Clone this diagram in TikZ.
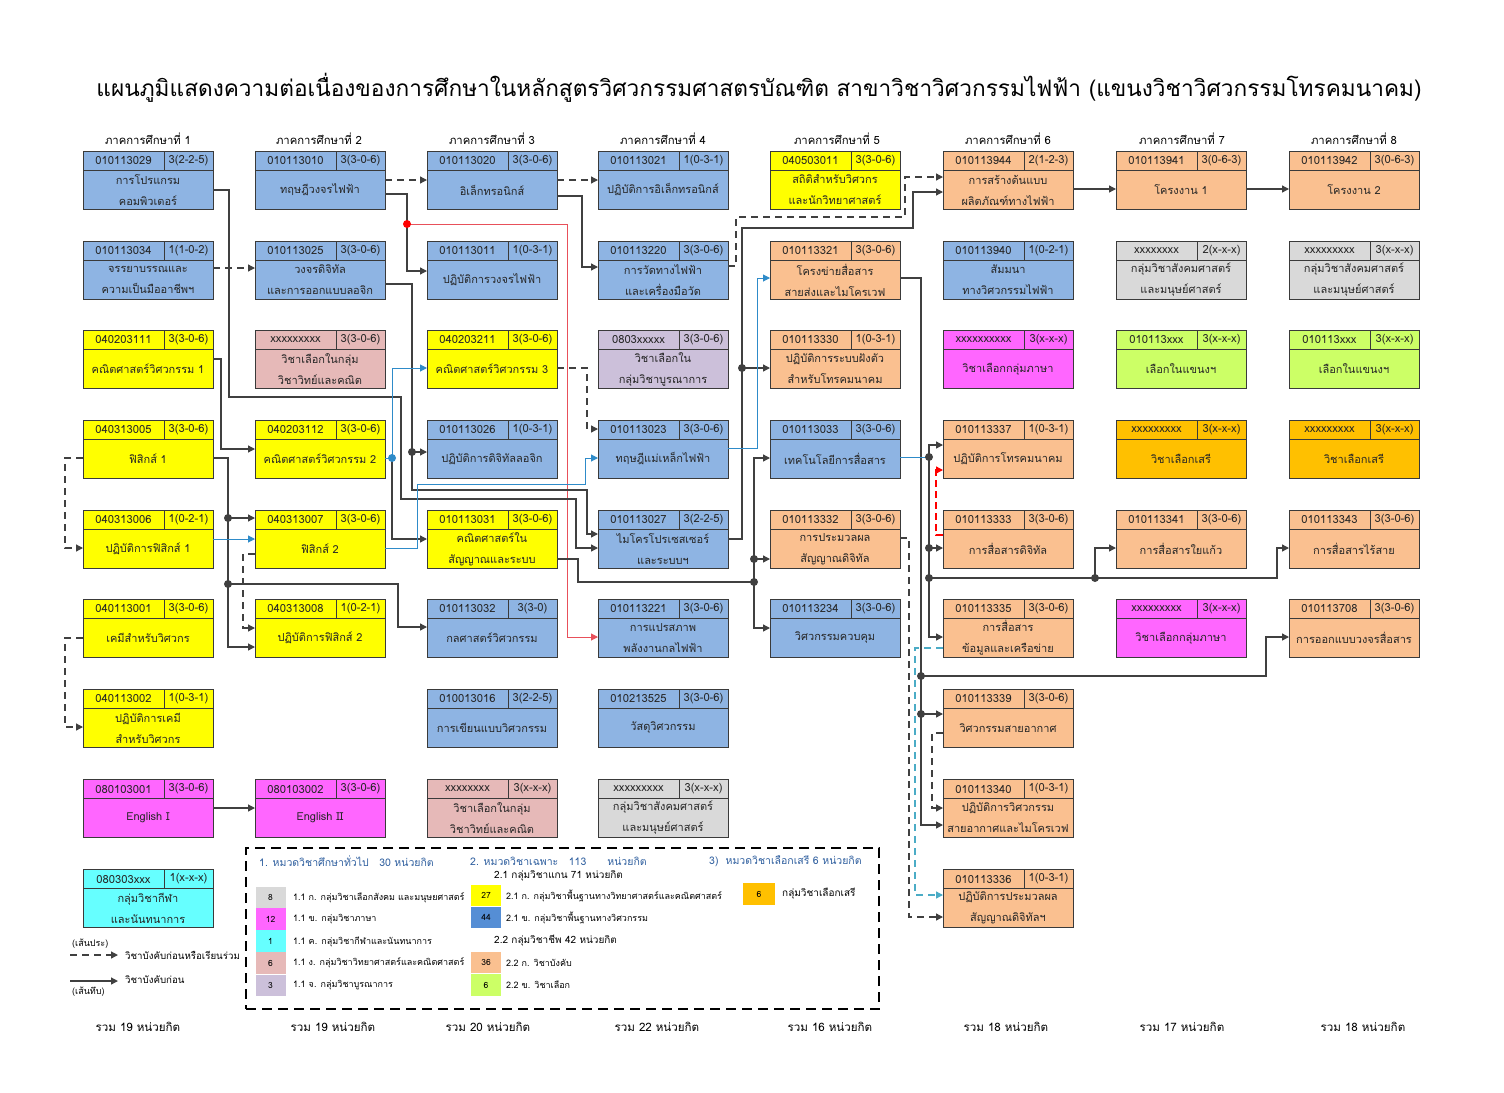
\documentclass[tikz,border=0pt]{standalone}
\usepackage{fontspec}
\usepackage{graphicx}
\setmainfont[Script=Thai]{Loma}
\usetikzlibrary{arrows.meta,calc}
\definecolor{cblue}{HTML}{8EB4E3}
\definecolor{cyel}{HTML}{FFFF00}
\definecolor{csal}{HTML}{FAC090}
\definecolor{cgray}{HTML}{D9D9D9}
\definecolor{cpink}{HTML}{E6B9B8}
\definecolor{clav}{HTML}{CCC0DA}
\definecolor{cmag}{HTML}{FF66FF}
\definecolor{cgrn}{HTML}{CCFF66}
\definecolor{cgold}{HTML}{FFC000}
\definecolor{ccyan}{HTML}{66FFFF}
\definecolor{cdblue}{HTML}{558ED5}
\definecolor{lineblue}{HTML}{2E8BC9}
\definecolor{linered}{HTML}{FF0000}
\definecolor{linepink}{HTML}{E8505A}
\definecolor{lineteal}{HTML}{4BACC6}
\definecolor{lgray}{HTML}{404040}
\definecolor{bord}{HTML}{3A3A3A}
\definecolor{hdrblue}{HTML}{2F5F9F}
\newcommand\course[7]{%
  \node[cbox, fill=#4] (#1) at ({#2+65},{#3+29}) {};
  \draw[cgrid] ([yshift=10pt]#1.west) -- ([yshift=10pt]#1.east);
  \draw[cgrid] ([xshift=16pt]#1.north) -- ([xshift=16pt,yshift=10pt]#1.center);
  \node[ctext] at ({#2+40.5},{#3+10}) {#5};
  \node[ctext] at ({#2+105.5},{#3+10}) {#6};
  \node[btext, align=center] at ({#2+65},{#3+39}) {#7};
}
\newcommand\jdot[1]{\fill[lgray] (#1) circle (4pt);}
\begin{document}
\begin{tikzpicture}[x=1pt,y=-1pt,
  cbox/.style={draw=bord, line width=1pt, rectangle, minimum width=130pt, minimum height=58pt, inner sep=0pt, outer sep=0pt},
  cgrid/.style={draw=bord, line width=1pt},
  ctext/.style={font=\fontsize{11.2}{21}\selectfont, inner sep=0pt, text=black!85},
  btext/.style={font=\fontsize{11}{21}\selectfont, inner sep=0pt, text=black!85},
  conn/.style={draw=lgray, line width=1.3pt, -{Triangle[length=7pt,width=7pt]}},
  dconn/.style={conn, dash pattern=on 7pt off 5pt},
  bconn/.style={conn, draw=lineblue, line width=1pt},
  rconn/.style={conn, draw=linepink, line width=1pt},
  rdconn/.style={conn, draw=linered, dash pattern=on 7pt off 4pt},
  tdconn/.style={conn, draw=lineteal, dash pattern=on 7pt off 5pt},
  semlab/.style={font=\fontsize{11.3}{13}\selectfont, inner sep=0pt},
  totlab/.style={font=\fontsize{11.6}{13}\selectfont, inner sep=0pt},
  lsq/.style={minimum width=30pt, minimum height=21.5pt, inner sep=0pt, font=\fontsize{8.5}{9}\selectfont},
  ltext/.style={font=\fontsize{9}{10}\selectfont, inner sep=0pt, anchor=west},
  lhead/.style={font=\fontsize{10.5}{12}\selectfont, inner sep=0pt, anchor=west, text=hdrblue}
]
\useasboundingbox (0,0) rectangle (1504,1092);
\fill[white] (0,0) rectangle (1504,1092);

\node[inner sep=0pt] (title) at (759,88) {\resizebox{1325pt}{!}{\fontsize{24}{28}\selectfont แผนภูมิแสดงความต่อเนื่องของการศึกษาในหลักสูตรวิศวกรรมศาสตรบัณฑิต สาขาวิชาวิศวกรรมไฟฟ้า (แขนงวิชาวิศวกรรมโทรคมนาคม)}};

\node[semlab] (s1) at (148,139) {ภาคการศึกษาที่ 1};
\node[semlab] (s2) at (319,139) {ภาคการศึกษาที่ 2};
\node[semlab] (s3) at (492,139) {ภาคการศึกษาที่ 3};
\node[semlab] (s4) at (663,139) {ภาคการศึกษาที่ 4};
\node[semlab] (s5) at (837,139) {ภาคการศึกษาที่ 5};
\node[semlab] (s6) at (1008,139) {ภาคการศึกษาที่ 6};
\node[semlab] (s7) at (1182,139) {ภาคการศึกษาที่ 7};
\node[semlab] (s8) at (1354,139) {ภาคการศึกษาที่ 8};

% column 1
\course{c11}{83}{151}{cblue}{010113029}{3(2-2-5)}{การโปรแกรม\\คอมพิวเตอร์}
\course{c12}{83}{241}{cblue}{010113034}{1(1-0-2)}{จรรยาบรรณและ\\ความเป็นมืออาชีพฯ}
\course{c13}{83}{330}{cyel}{040203111}{3(3-0-6)}{คณิตศาสตร์วิศวกรรม 1}
\course{c14}{83}{420}{cyel}{040313005}{3(3-0-6)}{ฟิสิกส์ 1}
\course{c15}{83}{510}{cyel}{040313006}{1(0-2-1)}{ปฏิบัติการฟิสิกส์ 1}
\course{c16}{83}{599}{cyel}{040113001}{3(3-0-6)}{เคมีสำหรับวิศวกร}
\course{c17}{83}{689}{cyel}{040113002}{1(0-3-1)}{ปฏิบัติการเคมี\\สำหรับวิศวกร}
\course{c18}{83}{779}{cmag}{080103001}{3(3-0-6)}{English I}
\course{c19}{83}{869}{ccyan}{080303xxx}{1(x-x-x)}{กลุ่มวิชากีฬา\\และนันทนาการ}
% column 2
\course{c21}{255}{151}{cblue}{010113010}{3(3-0-6)}{ทฤษฎีวงจรไฟฟ้า}
\course{c22}{255}{241}{cblue}{010113025}{3(3-0-6)}{วงจรดิจิทัล\\และการออกแบบลอจิก}
\course{c23}{255}{330}{cpink}{xxxxxxxxx}{3(3-0-6)}{วิชาเลือกในกลุ่ม\\วิชาวิทย์และคณิต}
\course{c24}{255}{420}{cyel}{040203112}{3(3-0-6)}{คณิตศาสตร์วิศวกรรม 2}
\course{c25}{255}{510}{cyel}{040313007}{3(3-0-6)}{ฟิสิกส์ 2}
\course{c26}{255}{599}{cyel}{040313008}{1(0-2-1)}{ปฏิบัติการฟิสิกส์ 2}
\course{c28}{255}{779}{cmag}{080103002}{3(3-0-6)}{English II}
% column 3
\course{c31}{427}{151}{cblue}{010113020}{3(3-0-6)}{อิเล็กทรอนิกส์}
\course{c32}{427}{241}{cblue}{010113011}{1(0-3-1)}{ปฏิบัติการวงจรไฟฟ้า}
\course{c33}{427}{330}{cyel}{040203211}{3(3-0-6)}{คณิตศาสตร์วิศวกรรม 3}
\course{c34}{427}{420}{cblue}{010113026}{1(0-3-1)}{ปฏิบัติการดิจิทัลลอจิก}
\course{c35}{427}{510}{cyel}{010113031}{3(3-0-6)}{คณิตศาสตร์ใน\\สัญญาณและระบบ}
\course{c36}{427}{599}{cblue}{010113032}{3(3-0)}{กลศาสตร์วิศวกรรม}
\course{c37}{427}{689}{cblue}{010013016}{3(2-2-5)}{การเขียนแบบวิศวกรรม}
\course{c38}{427}{779}{cpink}{xxxxxxxx}{3(x-x-x)}{วิชาเลือกในกลุ่ม\\วิชาวิทย์และคณิต}
% column 4
\course{c41}{598}{151}{cblue}{010113021}{1(0-3-1)}{ปฏิบัติการอิเล็กทรอนิกส์}
\course{c42}{598}{241}{cblue}{010113220}{3(3-0-6)}{การวัดทางไฟฟ้า\\และเครื่องมือวัด}
\course{c43}{598}{330}{clav}{0803xxxxx}{3(3-0-6)}{วิชาเลือกใน\\กลุ่มวิชาบูรณาการ}
\course{c44}{598}{420}{cblue}{010113023}{3(3-0-6)}{ทฤษฎีแม่เหล็กไฟฟ้า}
\course{c45}{598}{510}{cblue}{010113027}{3(2-2-5)}{ไมโครโปรเซสเซอร์\\และระบบฯ}
\course{c46}{598}{599}{cblue}{010113221}{3(3-0-6)}{การแปรสภาพ\\พลังงานกลไฟฟ้า}
\course{c47}{598}{689}{cblue}{010213525}{3(3-0-6)}{วัสดุวิศวกรรม}
\course{c48}{598}{779}{cgray}{xxxxxxxxx}{3(x-x-x)}{กลุ่มวิชาสังคมศาสตร์\\และมนุษย์ศาสตร์}
% column 5
\course{c51}{770}{151}{cyel}{040503011}{3(3-0-6)}{สถิติสำหรับวิศวกร\\และนักวิทยาศาสตร์}
\course{c52}{770}{241}{csal}{010113321}{3(3-0-6)}{โครงข่ายสื่อสาร\\สายส่งและไมโครเวฟ}
\course{c53}{770}{330}{csal}{010113330}{1(0-3-1)}{ปฏิบัติการระบบฝังตัว\\สำหรับโทรคมนาคม}
\course{c54}{770}{420}{cblue}{010113033}{3(3-0-6)}{เทคโนโลยีการสื่อสาร}
\course{c55}{770}{510}{csal}{010113332}{3(3-0-6)}{การประมวลผล\\สัญญาณดิจิทัล}
\course{c56}{770}{599}{cblue}{010113234}{3(3-0-6)}{วิศวกรรมควบคุม}
% column 6
\course{c61}{943}{151}{csal}{010113944}{2(1-2-3)}{การสร้างต้นแบบ\\ผลิตภัณฑ์ทางไฟฟ้า}
\course{c62}{943}{241}{cblue}{010113940}{1(0-2-1)}{สัมมนา\\ทางวิศวกรรมไฟฟ้า}
\course{c63}{943}{330}{cmag}{xxxxxxxxxx}{3(x-x-x)}{วิชาเลือกกลุ่มภาษา}
\course{c64}{943}{420}{csal}{010113337}{1(0-3-1)}{ปฏิบัติการโทรคมนาคม}
\course{c65}{943}{510}{csal}{010113333}{3(3-0-6)}{การสื่อสารดิจิทัล}
\course{c66}{943}{599}{csal}{010113335}{3(3-0-6)}{การสื่อสาร\\ข้อมูลและเครือข่าย}
\course{c67}{943}{689}{csal}{010113339}{3(3-0-6)}{วิศวกรรมสายอากาศ}
\course{c68}{943}{779}{csal}{010113340}{1(0-3-1)}{ปฏิบัติการวิศวกรรม\\สายอากาศและไมโครเวฟ}
\course{c69}{943}{869}{csal}{010113336}{1(0-3-1)}{ปฏิบัติการประมวลผล\\สัญญาณดิจิทัลฯ}
% column 7
\course{c71}{1116}{151}{csal}{010113941}{3(0-6-3)}{โครงงาน 1}
\course{c72}{1116}{241}{cgray}{xxxxxxxx}{2(x-x-x)}{กลุ่มวิชาสังคมศาสตร์\\และมนุษย์ศาสตร์}
\course{c73}{1116}{330}{cgrn}{010113xxx}{3(x-x-x)}{เลือกในแขนงฯ}
\course{c74}{1116}{420}{cgold}{xxxxxxxxx}{3(x-x-x)}{วิชาเลือกเสรี}
\course{c75}{1116}{510}{csal}{010113341}{3(3-0-6)}{การสื่อสารใยแก้ว}
\course{c76}{1116}{599}{cmag}{xxxxxxxxx}{3(x-x-x)}{วิชาเลือกกลุ่มภาษา}
% column 8
\course{c81}{1289}{151}{csal}{010113942}{3(0-6-3)}{โครงงาน 2}
\course{c82}{1289}{241}{cgray}{xxxxxxxxx}{3(x-x-x)}{กลุ่มวิชาสังคมศาสตร์\\และมนุษย์ศาสตร์}
\course{c83}{1289}{330}{cgrn}{010113xxx}{3(x-x-x)}{เลือกในแขนงฯ}
\course{c84}{1289}{420}{cgold}{xxxxxxxxx}{3(x-x-x)}{วิชาเลือกเสรี}
\course{c85}{1289}{510}{csal}{010113343}{3(3-0-6)}{การสื่อสารไร้สาย}
\course{c86}{1289}{599}{csal}{010113708}{3(3-0-6)}{การออกแบบวงจรสื่อสาร}

% ---------- connectors ----------
\draw[dconn] (c21.east |- 0,180) -- (c31.west |- 0,180);
\draw[dconn] (c31.east |- 0,180) -- (c41.west |- 0,180);
\draw[conn] (c61.east |- 0,189) -- (c71.west |- 0,189);
\draw[conn] (c71.east |- 0,189) -- (c81.west |- 0,189);
\draw[conn] (c21.east |- 0,194) -| (407,271) -- (c32.west |- 0,271);
\coordinate (jr) at (407,224);
\draw[rconn] (jr) -| (567,637) -- (c46.west |- 0,637);
\fill[linered] (jr) circle (4pt);
\draw[conn] (c31.east |- 0,196) -| (582,267) -- (c42.west |- 0,267);
\draw[dconn] (c12.east |- 0,268) -- (c22.west |- 0,268);
\draw[conn] (c11.east |- 0,190) -| (229,397) -| (401,499) -| (576,548) -- (c45.west |- 0,548);
\draw[conn] (c22.east |- 0,284) -| (412,490) -| (587,534) -- (c45.west |- 0,534);
\coordinate (j22) at (412,452);
\draw[conn] (j22) -- (c34.west |- 0,452);
\jdot{j22}
\draw[conn] (c13.east |- 0,359) -| (221,449) -- (c24.west |- 0,449);
\draw[conn] (c14.east |- 0,458) -| (228,647) -- (c26.west |- 0,647);
\coordinate (j14a) at (228,518);
\coordinate (j14b) at (228,584);
\draw[conn] (j14a) -- (c25.west |- 0,518);
\draw[conn] (j14b) -| (398,627) -- (c36.west |- 0,627);
\jdot{j14a}
\jdot{j14b}
\draw[bconn] (c15.east |- 0,539) -- (c25.west |- 0,539);
\draw[dconn] (c25.west |- 0,554) -| (243,628) -- (c26.west |- 0,628);
\draw[dconn] (c14.west |- 0,458) -| (65,548) -- (c15.west |- 0,548);
\draw[dconn] (c16.west |- 0,638) -| (65,727) -- (c17.west |- 0,727);
\coordinate (j24) at (392,458);
\draw[conn] (j24) |- (c35.west |- 0,539);
\draw[bconn, -] (c24.east |- 0,458) -- (j24);
\draw[bconn] (j24) |- (c33.west |- 0,368);
\fill[lineblue] (j24) circle (4pt);
\draw[bconn] (c25.east |- 0,548) -| (417,484) -| (585,458) -- (c44.west |- 0,458);
\draw[dconn] (c33.east |- 0,368) -| (587,429) -- (c44.west |- 0,429);
\coordinate (j35) at (754,582);
\coordinate (j35b) at (754,559);
\draw[conn, -] (c35.east |- 0,559) -| (578,582) -- (j35);
\draw[conn] (j35) |- (c54.west |- 0,458);
\draw[conn] (j35) |- (c56.west |- 0,628);
\draw[conn] (j35b) -- (c55.west |- 0,559);
\jdot{j35}
\jdot{j35b}
\coordinate (j45) at (742,368);
\draw[conn] (c45.east |- 0,539) -| (742,228) -| (913,192) -- (c61.west |- 0,192);
\draw[conn] (j45) -- (c53.west |- 0,368);
\jdot{j45}
\draw[dconn] (c42.east |- 0,266) -| (736,217) -| (905,177) -- (c61.west |- 0,177);
\draw[bconn] (c44.east |- 0,448) -| (757,278) -- (c52.west |- 0,278);
\coordinate (j52a) at (921,676);
\coordinate (j52b) at (921,714);
\draw[conn] (c52.east |- 0,278) -| (921,825) -- (c68.west |- 0,825);
\draw[conn] (j52a) -| (1266,637) -- (c86.west |- 0,637);
\draw[conn] (j52b) -- (c67.west |- 0,714);
\jdot{j52a}
\jdot{j52b}
\coordinate (j54) at (929,457);
\coordinate (j54b) at (929,548);
\coordinate (j54c) at (929,578);
\coordinate (j75) at (1095,578);
\draw[bconn, -] (c54.east |- 0,457) -- (j54);
\draw[conn] (j54) |- (c64.west |- 0,445);
\draw[conn] (j54) |- (c66.west |- 0,637);
\draw[conn] (j54b) -- (c65.west |- 0,548);
\draw[conn, -] (j54c) -- (j75);
\draw[conn] (j75) |- (c75.west |- 0,548);
\draw[conn] (j75) -| (1277,548) -- (c85.west |- 0,548);
\jdot{j54}
\jdot{j54b}
\jdot{j54c}
\jdot{j75}
\draw[rdconn] (c65.west |- 0,535) -| (936,470) -- (c64.west |- 0,470);
\draw[dconn] (c55.east |- 0,538) -| (909,917) -- (c69.west |- 0,917);
\draw[tdconn] (c66.west |- 0,648) -| (915,895) -- (c69.west |- 0,895);
\draw[dconn] (c67.west |- 0,733) -| (932,808) -- (c68.west |- 0,808);
\draw[conn] (c18.east |- 0,808) -- (c28.west |- 0,808);

% ---------- line legend ----------
\node[ltext, font=\fontsize{9}{10}\selectfont] (lp1) at (72,944) {(เส้นประ)};
\coordinate (la1) at (70,955);
\coordinate (la2) at (118,955);
\draw[dconn] (la1) -- (la2);
\node[ltext, font=\fontsize{9.7}{11}\selectfont] (lt1) at (125,955) {วิชาบังคับก่อนหรือเรียนร่วม};
\coordinate (lb1) at (70,981);
\coordinate (lb2) at (118,981);
\draw[conn] (lb1) -- (lb2);
\node[ltext, font=\fontsize{9.7}{11}\selectfont] (lt2) at (125,980) {วิชาบังคับก่อน};
\node[ltext, font=\fontsize{9}{10}\selectfont] (lp2) at (72,992) {(เส้นทึบ)};

% ---------- colour legend ----------
\node[draw=black, line width=1.3pt, dash pattern=on 10pt off 6pt, minimum width=633pt, minimum height=161pt, inner sep=0pt] (legend) at (562.5,928.5) {};
\node[lhead] (h1) at (259,861) {1. หมวดวิชาศึกษาทั่วไป\quad 30 หน่วยกิต};
\node[lhead] (h2) at (470,861) {2. หมวดวิชาเฉพาะ\quad 113\qquad หน่วยกิต};
\node[lhead] (h3) at (709,861) {3)\ \ หมวดวิชาเลือกเสรี 6 หน่วยกิต};
\node[ltext, font=\fontsize{10}{11}\selectfont] (g21) at (494,876) {2.1 กลุ่มวิชาแกน 71 หน่วยกิต};
\node[ltext, font=\fontsize{10}{11}\selectfont] (g22) at (494,941) {2.2 กลุ่มวิชาชีพ 42 หน่วยกิต};

\node[lsq, fill=cgray] (q1) at (270.5,897.5) {8};
\node[lsq, fill=cmag] (q2) at (270.5,919) {12};
\node[lsq, fill=ccyan] (q3) at (270.5,941) {1};
\node[lsq, fill=cpink] (q4) at (270.5,963) {6};
\node[lsq, fill=clav] (q5) at (270.5,985.5) {3};
\node[ltext] (t1) at (293,897.5) {1.1 ก. กลุ่มวิชาเลือกสังคม และมนุษยศาสตร์};
\node[ltext] (t2) at (293,919) {1.1 ข. กลุ่มวิชาภาษา};
\node[ltext] (t3) at (293,942) {1.1 ค. กลุ่มวิชากีฬาและนันทนาการ};
\node[ltext] (t4) at (293,963) {1.1 ง. กลุ่มวิชาวิทยาศาสตร์และคณิตศาสตร์};
\node[ltext] (t5) at (293,985.5) {1.1 จ. กลุ่มวิชาบูรณาการ};

\node[lsq, fill=cyel] (q6) at (486,895.5) {27};
\node[lsq, fill=cdblue] (q7) at (486,917.5) {44};
\node[lsq, fill=csal] (q8) at (486,962.5) {36};
\node[lsq, fill=cgrn] (q9) at (486,985) {6};
\node[ltext] (t6) at (506,895.5) {2.1 ก. กลุ่มวิชาพื้นฐานทางวิทยาศาสตร์และคณิตศาสตร์};
\node[ltext] (t7) at (506,917.5) {2.1 ข. กลุ่มวิชาพื้นฐานทางวิศวกรรม};
\node[ltext] (t8) at (506,962.5) {2.2 ก. วิชาบังคับ};
\node[ltext] (t9) at (506,985) {2.2 ข. วิชาเลือก};
\node[lsq, fill=cgold, minimum width=32pt, minimum height=22pt] (q10) at (759,894) {6};
\node[ltext, font=\fontsize{10}{11}\selectfont] (t10) at (782,894) {กลุ่มวิชาเลือกเสรี};

% ---------- totals ----------
\node[totlab] (r1) at (138,1027) {รวม 19 หน่วยกิต};
\node[totlab] (r2) at (333,1027) {รวม 19 หน่วยกิต};
\node[totlab] (r3) at (488,1027) {รวม 20 หน่วยกิต};
\node[totlab] (r4) at (657,1027) {รวม 22 หน่วยกิต};
\node[totlab] (r5) at (830,1027) {รวม 16 หน่วยกิต};
\node[totlab] (r6) at (1006,1027) {รวม 18 หน่วยกิต};
\node[totlab] (r7) at (1182,1027) {รวม 17 หน่วยกิต};
\node[totlab] (r8) at (1363,1027) {รวม 18 หน่วยกิต};
\end{tikzpicture}
\end{document}
